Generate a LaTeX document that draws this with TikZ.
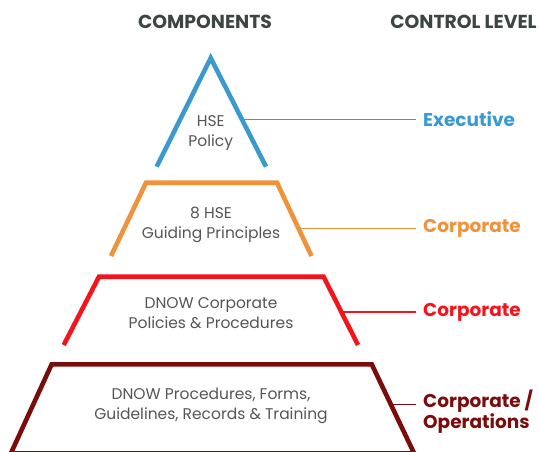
\documentclass[tikz,border=0pt]{standalone}
\usepackage{fontspec}
\setmainfont{Poppins}
\usetikzlibrary{calc}

\definecolor{hsblue}{HTML}{3A9AD0}
\definecolor{hsorange}{HTML}{F0923A}
\definecolor{hsred}{HTML}{F5141E}
\definecolor{hsdark}{HTML}{7B0C0C}
\definecolor{hsgray}{HTML}{555555}
\definecolor{hshead}{HTML}{3D4543}

\begin{document}
\begin{tikzpicture}[x=1pt,y=-1pt,line join=miter,
	head/.style={font=\fontsize{18.8}{22}\selectfont\bfseries, text=hshead},
	body/.style={font=\fontsize{15.5}{20}\selectfont, text=hsgray, align=center},
	level/.style={font=\fontsize{18.5}{21}\selectfont\bfseries, anchor=west, align=left, inner sep=0pt},
	tier/.style={line width=4.6pt},
	link/.style={line width=1.1pt}]

	\useasboundingbox (0,0) rectangle (539,452);
	\clip (0,0) rectangle (539,452);

	% headings
	\node[head] (comp) at (205,22) {COMPONENTS};
	\node[head] (ctrl) at (463.5,22) {CONTROL LEVEL};

	% pyramid corners
	\coordinate (apex) at (210.7,58);
	\coordinate (bl) at (156.7,166.7);
	\coordinate (br) at (266,166.7);

	\coordinate (otl) at (146,182.7);
	\coordinate (otr) at (277,182.7);
	\coordinate (obl) at (111,256);
	\coordinate (obr) at (311.5,256);

	\coordinate (rtl) at (99,276.7);
	\coordinate (rtr) at (323.6,276.7);
	\coordinate (rbl) at (63.7,345);
	\coordinate (rbr) at (358,345);

	\coordinate (dtl) at (51.6,364.4);
	\coordinate (dtr) at (371.8,364.4);
	\coordinate (dbl) at (10.8,453.5);
	\coordinate (dbr) at (414.2,453.5);

	% tiers
	\draw[tier, hsblue] (bl) -- (apex) -- (br);
	\draw[tier, hsorange] (obl) -- (otl) -- (otr) -- (obr);
	\draw[tier, hsred] (rbl) -- (rtl) -- (rtr) -- (rbr);
	\draw[tier, hsdark] (dbl) -- (dtl) -- (dtr) -- (dbr) -- cycle;

	% components
	\node[body] (policy) at (210.7,132.7) {HSE\\Policy};
	\node[body] (guide) at (211,225.4) {8 HSE\\Guiding Principles};
	\node[body] (corp) at (211,313.5) {DNOW Corporate\\Policies \& Procedures};
	\node[body] (proc) at (211,405.5) {DNOW Procedures, Forms,\\Guidelines, Records \& Training};

	% control levels
	\node[level, text=hsblue] (exec) at (423,119.3) {Executive};
	\node[level, text=hsorange] (corpa) at (423,228.5) {Corporate};
	\node[level, text=hsred] (corpb) at (423,312) {Corporate};
	\node[level, text=hsdark] (oper) at (423,411.5) {Corporate /\\Operations};

	% links
	\coordinate (e1) at ($(apex)!0.564!(br)$);
	\coordinate (e2) at ($(otr)!0.625!(obr)$);
	\coordinate (e3) at ($(rtr)!0.517!(rbr)$);
	\coordinate (e4) at ($(dtr)!0.446!(dbr)$);
	\draw[link, hsblue, shorten >=7pt] (e1) -- (e1 -| exec.west);
	\draw[link, hsorange, shorten >=7pt] (e2) -- (e2 -| corpa.west);
	\draw[link, hsred, shorten >=7pt] (e3) -- (e3 -| corpb.west);
	\draw[link, hsdark, shorten >=7pt] (e4) -- (e4 -| oper.west);
\end{tikzpicture}
\end{document}
